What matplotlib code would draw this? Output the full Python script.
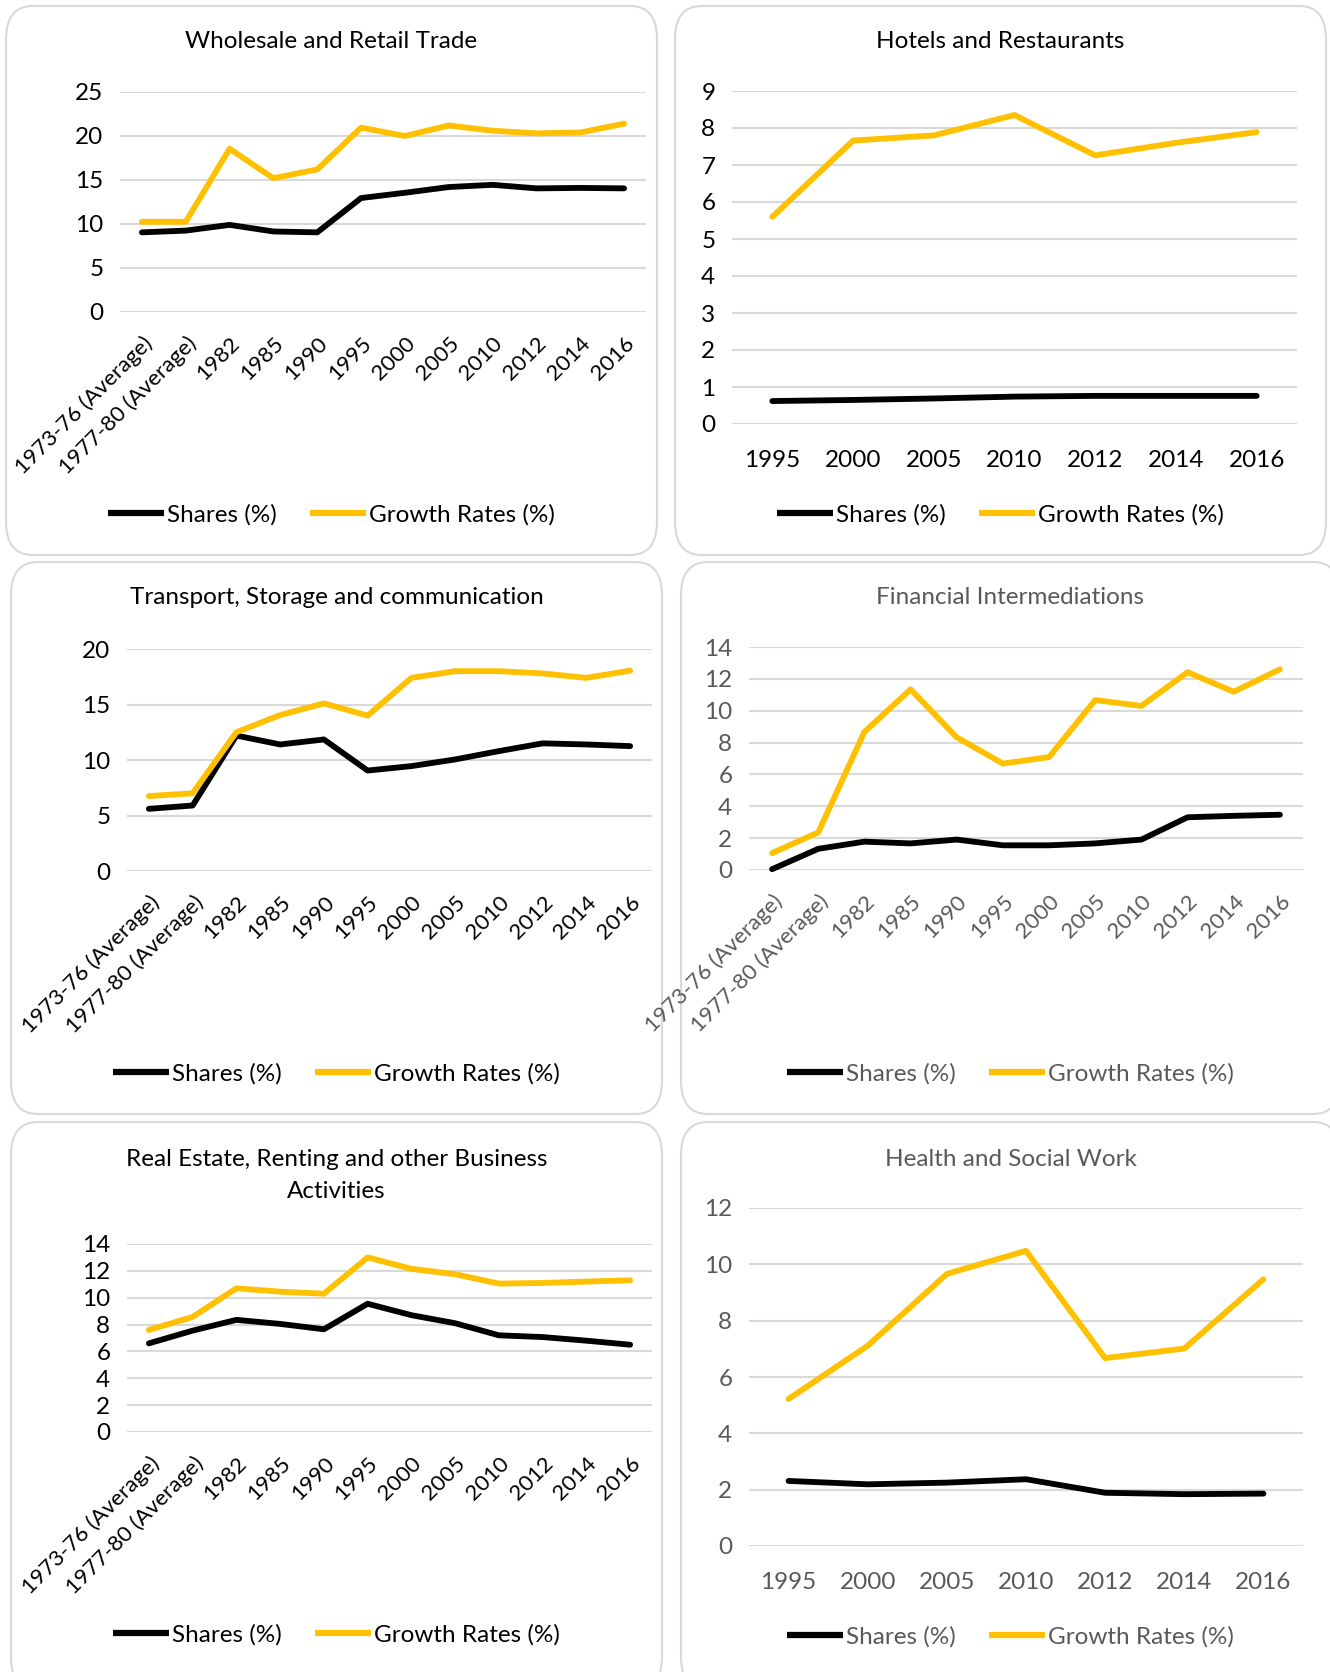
import matplotlib
matplotlib.use("Agg")
import matplotlib.pyplot as plt
from matplotlib.patches import FancyBboxPatch
from matplotlib.lines import Line2D

plt.rcParams['font.family'] = ['Lato', 'DejaVu Sans']

# Data
long_years = ["1973-76 (Average)", "1977-80 (Average)", "1982", "1985", "1990", "1995",
              "2000", "2005", "2010", "2012", "2014", "2016"]
short_years = ["1995", "2000", "2005", "2010", "2012", "2014", "2016"]

trade_shares = [9.05, 9.25, 9.9, 9.15, 9.05, 12.95, 13.55, 14.2, 14.45, 14.05, 14.1, 14.05]
trade_growth = [10.25, 10.25, 18.55, 15.2, 16.2, 20.95, 20.0, 21.2, 20.6, 20.3, 20.4, 21.4]

hotel_shares = [0.62, 0.65, 0.69, 0.74, 0.76, 0.76, 0.76]
hotel_growth = [5.6, 7.66, 7.8, 8.35, 7.26, 7.6, 7.89]

transport_shares = [5.6, 5.9, 12.2, 11.4, 11.85, 9.05, 9.45, 10.05, 10.8, 11.5, 11.4, 11.25]
transport_growth = [6.75, 7.0, 12.5, 14.05, 15.1, 14.0, 17.4, 18.0, 18.0, 17.8, 17.4, 18.05]

finance_shares = [0.05, 1.33, 1.78, 1.67, 1.91, 1.55, 1.55, 1.67, 1.91, 3.31, 3.4, 3.47]
finance_growth = [1.06, 2.36, 8.67, 11.34, 8.33, 6.68, 7.09, 10.67, 10.3, 12.42, 11.19, 12.6]

estate_shares = [6.6, 7.55, 8.35, 8.05, 7.65, 9.55, 8.7, 8.1, 7.2, 7.07, 6.8, 6.5]
estate_growth = [7.6, 8.57, 10.7, 10.45, 10.3, 13.0, 12.15, 11.75, 11.05, 11.1, 11.2, 11.3]

health_shares = [2.31, 2.19, 2.25, 2.37, 1.89, 1.84, 1.86]
health_growth = [5.22, 7.11, 9.66, 10.48, 6.67, 7.01, 9.47]

W, H = 1330, 1672
fig = plt.figure(figsize=(W / 100, H / 100), dpi=100)

YELLOW = "#FFC000"
GRID = "#D9D9D9"
FS = 17.5


def box(x0, y0, x1, y1):
    p = FancyBboxPatch((x0 / W, 1 - y1 / H), (x1 - x0) / W, (y1 - y0) / H,
                       boxstyle="round,pad=0,rounding_size=0.02",
                       transform=fig.transFigure, facecolor="white",
                       edgecolor=GRID, linewidth=1.5, zorder=-5)
    fig.patches.append(p)


def panel(rect, box_rect, title, title_y, cats, shares, growth, ymax, ystep,
          legend_y, tcolor="black", rotate=True):
    x0, x1, ytop, ybot = rect
    box(*box_rect)
    ax = fig.add_axes([x0 / W, 1 - ybot / H, (x1 - x0) / W, (ybot - ytop) / H])
    ax.patch.set_visible(False)
    xs = list(range(len(cats)))
    ax.plot(xs, shares, color="black", lw=4.2, solid_capstyle="round", clip_on=False, zorder=3)
    ax.plot(xs, growth, color=YELLOW, lw=4.2, solid_capstyle="round", clip_on=False, zorder=3)
    ax.set_xlim(-0.5, len(cats) - 0.5)
    ax.set_ylim(0, ymax)
    ax.set_yticks(range(0, ymax + 1, ystep))
    ax.grid(axis="y", color=GRID, lw=1.5)
    ax.set_axisbelow(True)
    for s in ax.spines.values():
        s.set_visible(False)
    ax.tick_params(length=0, labelsize=FS, colors=tcolor, pad=12)
    ax.set_xticks(xs)
    if rotate:
        ax.set_xticklabels(cats, rotation=45, ha="right", rotation_mode="anchor",
                           fontsize=16)
        ax.tick_params(axis="x", pad=15)
    else:
        ax.set_xticklabels(cats)
        ax.tick_params(axis="x", pad=19)
    cx = (box_rect[0] + box_rect[2]) / 2 / W
    for i, line in enumerate(title.split("\n")):
        fig.text(cx, 1 - (title_y + i * 32) / H, line, ha="center", va="center",
                 fontsize=FS, color=tcolor)
    handles = [Line2D([], [], color="black", lw=4.5, solid_capstyle="butt"),
               Line2D([], [], color=YELLOW, lw=4.5, solid_capstyle="butt")]
    fig.legend(handles, ["Shares (%)", "Growth Rates (%)"], loc="center",
               bbox_to_anchor=(cx, 1 - legend_y / H), ncol=2, frameon=False,
               fontsize=FS, handlelength=2.3, handletextpad=0.15,
               columnspacing=1.35, labelcolor=tcolor)


panel((120, 646, 92, 312), (6, 6, 657, 555), "Wholesale and Retail Trade", 42,
      long_years, trade_shares, trade_growth, 25, 5, 515)
panel((732, 1297, 91, 424), (675, 6, 1326, 555), "Hotels and Restaurants", 42,
      short_years, hotel_shares, hotel_growth, 9, 1, 515, rotate=False)
panel((127, 652, 649, 871), (11, 562, 662, 1114), "Transport, Storage and communication", 598,
      long_years, transport_shares, transport_growth, 20, 5, 1074)
panel((749, 1303, 647, 870), (681, 562, 1340, 1114), "Financial Intermediations", 598,
      long_years, finance_shares, finance_growth, 14, 2, 1074, tcolor="#595959")
panel((127, 652, 1244, 1432), (11, 1122, 662, 1690), "Real Estate, Renting and other Business\nActivities", 1160,
      long_years, estate_shares, estate_growth, 14, 2, 1635)
panel((749, 1303, 1208, 1546), (681, 1122, 1340, 1690), "Health and Social Work", 1160,
      short_years, health_shares, health_growth, 12, 2, 1637, tcolor="#595959", rotate=False)

fig.savefig("out.png", dpi=100)
